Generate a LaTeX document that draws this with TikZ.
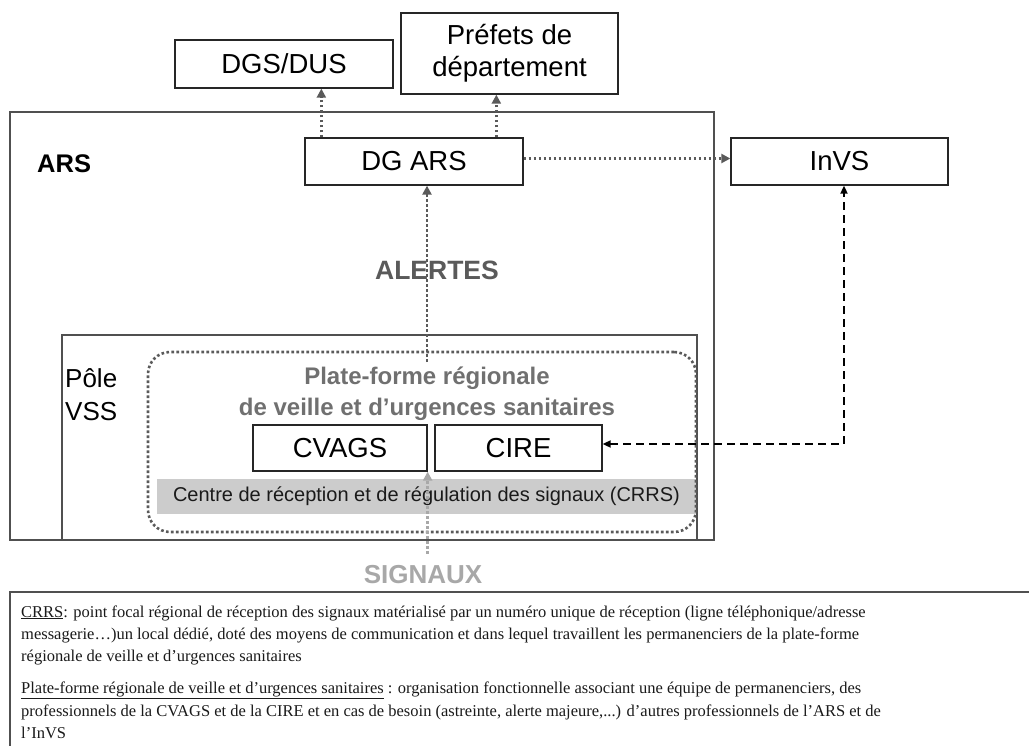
\documentclass[tikz,border=0pt]{standalone}
\usepackage{fontspec}
\setmainfont{Liberation Serif}
\newfontfamily\arial{Liberation Sans}
\usetikzlibrary{arrows.meta,calc}
\definecolor{dotgray}{HTML}{5A5A5A}
\definecolor{sigtxt}{HTML}{A8A8A8}
\definecolor{platgray}{HTML}{707070}
\definecolor{barfill}{HTML}{CCCCCC}
\definecolor{framegray}{HTML}{505050}
\definecolor{txtdark}{HTML}{1A1A1A}
\begin{document}
\begin{tikzpicture}[x=1pt,y=-1pt,
  box/.style={draw=black!85, line width=1.3pt, fill=white, inner sep=0pt, align=center,
    font=\arial\fontsize{27.5}{32}\selectfont},
  frame/.style={draw=framegray, line width=1.6pt, inner sep=0pt},
  dotarrow/.style={draw=dotgray, line width=2.6pt, dash pattern=on 2.6pt off 2.4pt,
    -{Triangle[length=9pt,width=9pt,fill=dotgray]}},
  sigarrow/.style={draw=sigtxt, line width=2.6pt, dash pattern=on 2.6pt off 2.4pt,
    -{Triangle[length=9pt,width=9pt,fill=sigtxt]}},
  dasharrow/.style={draw=black, line width=1.8pt, dash pattern=on 8pt off 5pt,
    {Triangle[length=8pt,width=7pt]}-{Triangle[length=8pt,width=7pt]}},
  bottomtxt/.style={anchor=base west, inner sep=0pt, text=txtdark, font=\fontsize{16.5}{22}\selectfont},
]
\useasboundingbox (0,0) rectangle (1029,745);
% frames
\node[frame, minimum width=704, minimum height=428] (ars) at (362,326) {};
\node[frame, minimum width=635, minimum height=205] (pole) at (379.5,437.5) {};
\node[fill=barfill, minimum width=539, minimum height=35, inner sep=0pt,
  font=\arial\fontsize{20}{23}\selectfont, text=txtdark] (crrs) at (426.5,496.5)
  {Centre de réception et de régulation des signaux (CRRS)};
\node[draw=dotgray, line width=2.6pt, dash pattern=on 2.6pt off 2.4pt, rounded corners=22pt,
  minimum width=548, minimum height=180, inner sep=0pt] (plat) at (422,442) {};
% boxes
\node[box, minimum width=218, minimum height=48] (dgs) at (284,64) {DGS/DUS};
\node[box, minimum width=217, minimum height=81] (prefets) at (509.5,53.5) {Préfets de\\département};
\node[box, minimum width=218, minimum height=47] (dgars) at (414,161.5) {DG ARS};
\node[box, minimum width=217, minimum height=47] (invs) at (839.5,161.5) {InVS};
\node[box, minimum width=174, minimum height=46] (cvags) at (340,448) {CVAGS};
\node[box, minimum width=167, minimum height=46] (cire) at (518.5,448) {CIRE};
% labels
\node[anchor=base west, inner sep=0pt, font=\arial\bfseries\fontsize{25.5}{30}\selectfont] (arslabel) at (37,172) {ARS};
\node[anchor=base west, inner sep=0pt, font=\arial\fontsize{26}{30}\selectfont] (pole1) at (65,387) {Pôle};
\node[anchor=base west, inner sep=0pt, font=\arial\fontsize{26}{30}\selectfont] (pole2) at (65,420) {VSS};
% arrows
\coordinate (alertStart) at (427,362);
\draw[dotarrow] (alertStart) -- (alertStart |- dgars.south);
\draw[dotarrow] ([xshift=17pt]dgars.north west) -- ([xshift=147pt]dgs.south west);
\draw[dotarrow] ([xshift=192pt]dgars.north west) -- ([xshift=96pt]prefets.south west);
\draw[dotarrow] ([yshift=3pt]dgars.east) -- ([yshift=3pt]invs.west);
\coordinate (sigStart) at ($(cvags.south east)+(0,82)$);
\draw[sigarrow] (sigStart) -- (cvags.south east);
\draw[dasharrow] ([yshift=4pt]cire.east) -| ([xshift=4.5pt]invs.south);
% texts over arrows
\node[anchor=base, inner sep=0pt, text=dotgray, font=\arial\bfseries\fontsize{26.5}{30}\selectfont] (alertes) at (437,279) {ALERTES};
\node[anchor=base, inner sep=0pt, text=platgray, font=\arial\bfseries\fontsize{24}{30}\selectfont] (plat1) at (427,384) {Plate-forme régionale};
\node[anchor=base, inner sep=0pt, text=platgray, font=\arial\bfseries\fontsize{24}{30}\selectfont] (plat2) at (427,415) {de veille et d’urgences sanitaires};
\node[anchor=base, inner sep=0pt, text=sigtxt, font=\arial\bfseries\fontsize{26}{30}\selectfont] (signaux) at (423,583) {SIGNAUX};
% bottom legend
\draw[framegray, line width=1.2pt] (10,760) -- (10,592) -- (1040,592);
\node[bottomtxt] (l1) at (21,617) {\underline{CRRS}: point focal régional de réception des signaux matérialisé par un numéro unique de réception (ligne téléphonique/adresse};
\node[bottomtxt] (l2) at (21,639) {messagerie…)un local dédié, doté des moyens de communication et dans lequel travaillent les permanenciers de la plate-forme};
\node[bottomtxt] (l3) at (21,661) {régionale de veille et d’urgences sanitaires};
\node[bottomtxt] (l4) at (21,693) {\underline{Plate-forme régionale de veille et d’urgences sanitaires} : organisation fonctionnelle associant une équipe de permanenciers, des};
\node[bottomtxt] (l5) at (21,716) {professionnels de la CVAGS et de la CIRE et en cas de besoin (astreinte, alerte majeure,...) d’autres professionnels de l’ARS et de};
\node[bottomtxt] (l6) at (21,738) {l’InVS};
\end{tikzpicture}
\end{document}
